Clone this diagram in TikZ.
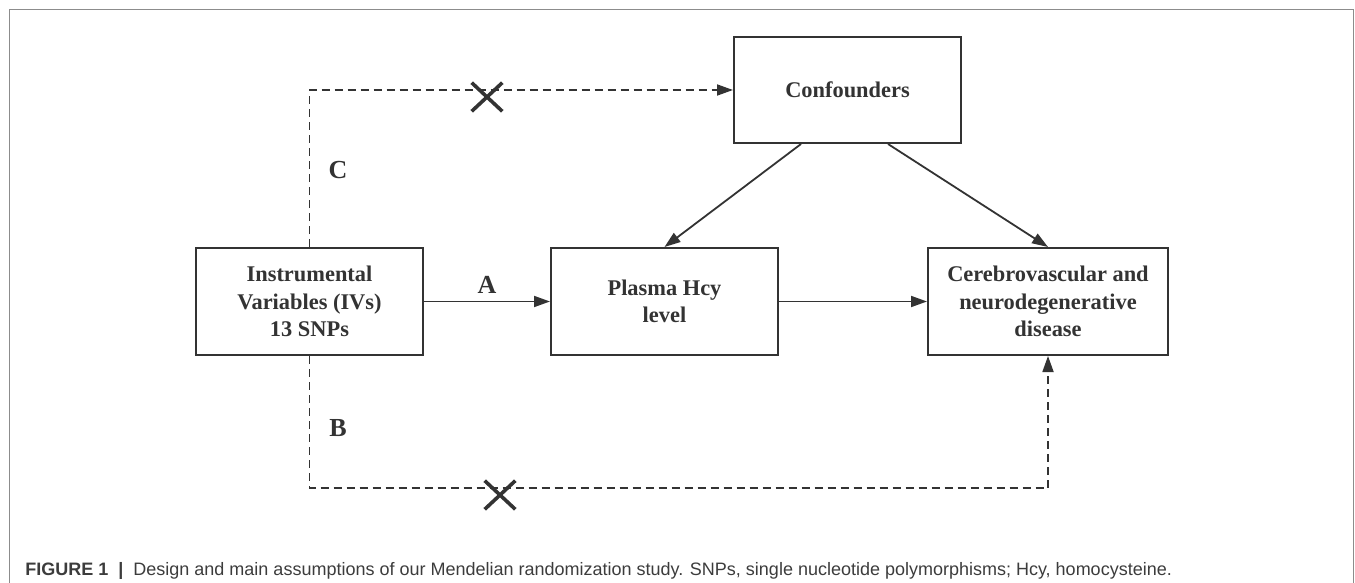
\documentclass[tikz,border=0pt]{standalone}
\usepackage{fontspec}
\setmainfont{Liberation Serif}
\newfontfamily\capfont{Liberation Sans}
\usetikzlibrary{arrows.meta,shapes.misc}

\definecolor{ink}{HTML}{333333}
\definecolor{capgray}{HTML}{3C3C3C}
\definecolor{framegray}{HTML}{8C8C8C}

\tikzset{
  box/.style={draw=ink, line width=1pt, minimum width=113.5pt, minimum height=53.5pt,
    inner sep=0pt, align=center, text=ink, font=\fontsize{11.2}{13.6}\selectfont\bfseries},
  arr/.style={draw=ink, line width=0.9pt, -{Triangle[length=8pt,width=5.5pt]}},
  dashline/.style={arr, dash pattern=on 4pt off 2.5pt},
  lbl/.style={text=ink, font=\fontsize{13}{15}\selectfont\bfseries},
  nope/.style={cross out, draw=ink, line width=1.8pt, minimum width=13.5pt,
    minimum height=12.5pt, inner sep=0pt},
}

\begin{document}
\begin{tikzpicture}[x=0.5pt, y=-0.5pt]
  \useasboundingbox (0,0) rectangle (1355,583);
  \draw [framegray, line width=0.5pt] (9,583) -- (9,9.5) -- (1353,9.5) -- (1353,583);

  \node [box] (iv) at (309.5, 301.5) {Instrumental\\Variables (IVs)\\13 SNPs};
  \node [box] (hcy) at (664.5, 301.5) {Plasma Hcy\\level};
  \node [box, minimum width=120pt] (dis) at (1048, 301.5) {Cerebrovascular and\\neurodegenerative\\disease};
  \node [box, minimum height=53pt] (conf) at (847.5, 90) {Confounders};

  \draw [arr] (iv) -- (hcy);
  \draw [arr] (hcy) -- (dis);
  \draw [arr] ([xshift=-23.25pt]conf.south) -- (hcy.north);
  \draw [arr] ([xshift=20.25pt]conf.south) -- (dis.north);

  % paths C and B
  \coordinate (bend) at (1048, 488);
  \draw [dashline] (iv.north) |- (conf.west);
  \draw [dashline] (iv.south) |- (bend) -- (dis.south);

  \node [nope] (xc) at (487, 97) {};
  \node [nope] (xb) at (500, 495) {};

  \node [lbl] (la) at (487, 285) {A};
  \node [lbl] (lb) at (338, 428) {B};
  \node [lbl] (lc) at (338, 170) {C};

  \node [anchor=base west, inner sep=0pt, text=capgray, font=\capfont\fontsize{9}{11}\selectfont] (cap) at (25, 575)
    {{\bfseries FIGURE 1~~|}~~Design and main assumptions of our Mendelian randomization study. SNPs, single nucleotide polymorphisms; Hcy, homocysteine.};
\end{tikzpicture}
\end{document}
